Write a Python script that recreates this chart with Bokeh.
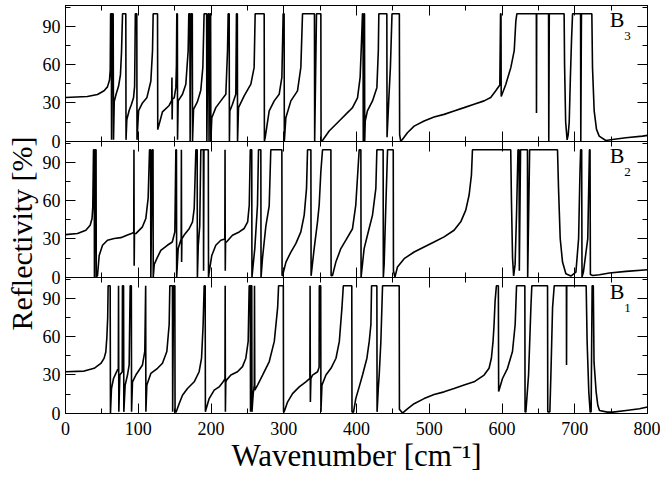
from bokeh.plotting import figure
from bokeh.models import Range1d, LinearAxis, SingleIntervalTicker, Label, Title
from bokeh.layouts import column
from bokeh.embed import file_html
from bokeh.resources import INLINE

# Reflectivity spectra (wavenumber cm^-1, reflectivity %)
B3 = [(0,34.2),(30,35),(44,36.6),(53,39.5),(57.7,42.6),(60.5,48),(61.5,56),
(62,100),(63,100),(63.3,1),(64,100),(65.5,100),(66,1),
(67,31),(69.6,37),(72.9,43),(75.5,52),(77,70),(78.4,100),(82.9,100),(83.2,1),
(84.3,17),(87.5,24),(90.7,29),(93.5,34),(95,43),(95.5,70),(96,100),(98,100),(98.3,1),
(100.5,24),(105.8,30),(111.8,34),(117.3,47),(119.6,71),(120.5,100),(126.5,100),(126.8,9),
(133.3,23),(142.5,28),(146,32),(146.3,50),(146.6,17),(147,33),(149.4,34),(151.7,42),(152.5,60),(153,100),(153.8,100),(154,1),
(154.9,31.6),(160.8,36.8),(165.4,44.7),(168.6,71),(169.5,100),(171,100),(171.3,0),(172.5,100),(174.3,100),(174.6,0),
(176,25),(181.4,31),(186,40),(188.8,58),(190.5,100),(194,100),(194.3,0),(196,100),(197,100),(197.3,0),(198.5,100),(199.5,100),(199.8,0),
(201.1,18.4),(206.6,26.3),(213.5,31.6),(220.4,36.8),(222.7,71),(223.6,100),(225,100),(225.3,0),
(225.9,23.7),(229.5,29),(234.1,36.8),(235,100),(236.2,100),(236.5,0),
(237.8,26.3),(245.6,35.5),(254.8,44.7),(259.3,57.9),(260.7,100),(273.1,100),(273.4,0),
(274.4,2.6),(280,23.7),(286.9,31.6),(293.7,36.8),(297.4,50),(299.2,100),(300.5,100),(300.8,0),
(302.9,18.4),(309.8,31.6),(318.9,39.5),(323.5,57.9),(325.8,100),(342.2,100),(342.5,0),(345,100),(351,100),(351.3,0),
(353.3,0.5),(362.4,7.9),(376.2,15.8),(390,23.7),(394.5,26.3),(401.4,34),(405,50),(407,80),(408.2,100),(409,100),(409.3,0),(410.5,100),(411,100),(411.3,0),
(412,15.8),(415,23.7),(422,31.6),(428,42),(430,71),(430.7,100),(441.7,100),(442,3),
(444.3,31.6),(446.6,57.9),(448.8,100),(458.9,100),(459.3,5),(460.8,0),
(463.1,1.3),(470,6.6),(479.2,11.8),(492.9,15.8),(506.6,19),(520.4,21),(534.1,23.7),(547.9,26.3),(561.6,29),(575.4,31.6),(584.5,34.2),(591.4,39.5),(597,44),
(598,100),(598.6,100),(598.9,35),(605.3,44.7),(612.2,57.9),(616.8,71),(619,94),(620.4,100),
(647.2,100),(647.4,22),(647.7,100),(664,100),(664.3,0),(665,100),(685.4,100),
(686,60),(687.5,15),(689.5,1),(691,5),(692.4,15),(694,50),(695.6,80),(697,100),
(708,100),(708.3,0),(709.2,100),(723.5,100),(724.4,57.9),(726.7,23.7),(729.9,9.2),(733.6,3.9),(742.7,0.5),(751.9,1.3),(770.2,2.6),(793.1,3.9),(800,4.5)]

B2 = [(0,33.4),(16.5,34.2),(28,36.8),(33.9,40.8),(36.5,46),(37.5,55),(38.5,100),(39.5,100),(39.8,0),(40.8,100),(42,100),(42.3,0),
(44,1.3),(46.3,17),(50.9,25),(57.7,29),(66.9,30.3),(76,31),(85.2,33),(90.7,34.2),(93.8,35),(94.1,100),(94.4,9),(94.8,34),
(96.7,34.2),(105.8,39.5),(110.4,46),(113.6,62),(115.5,100),(117,100),(117.3,0),(119.2,100),(120.3,100),(120.6,0),
(122,10),(125.5,14.5),(131,21),(140,25),(146.8,27.6),(150.3,35.5),(151.7,100),(152.5,100),(152.8,0),
(154.9,22.4),(159,30),(159.3,100),(159.6,11.8),(160,30),(163.1,33),(170,38),(174.6,43.4),(176.9,54),(179.2,100),(181,100),(181.3,0),
(182.5,25),(184.5,40),(186,100),(189.5,100),(189.8,5),(190.3,100),(196.3,100),(196.6,0),
(197.5,4),(201.1,17),(206.6,25),(213.5,29),(219,30),(219.3,100),(219.6,5),(220,27),
(221.3,27.6),(229.5,32.9),(238.8,35.5),(245.6,38.2),(250.4,43.4),(252.6,56.6),(254,100),(256,100),(256.3,0),
(258,10),(260.2,22.4),(263.9,56.6),(265.3,100),(268.5,100),(268.8,0),
(270.8,15),(275.4,40),(280,56),(282.2,100),(297.4,100),(297.7,1),
(298.4,1.3),(303,11.8),(309.8,19.7),(316.6,26.3),(323.5,35.5),(328.1,48.7),(331.3,69.7),(332.7,100),(337.3,100),(337.6,1),
(338.7,6.6),(341.8,22.4),(346.4,43.4),(348.7,56.6),(351,82.9),(353.3,100),(364.8,100),(365.1,1),
(367,1.3),(371.6,11.8),(378.5,22.4),(385.4,29),(394.5,38),(399,56.6),(403.7,100),(406,100),(406.3,0),
(407,3.9),(410.5,22.4),(415,32.9),(422,48.7),(426.6,69.7),(428,100),(436.6,100),(436.9,0),
(438,10),(440,50),(442.7,100),(450.5,100),(450.8,5),(452.8,0),
(456.3,7.9),(465.5,14.5),(479.2,19.7),(492.9,23.7),(506.6,27.6),(520.4,31.6),(534.1,36.8),(543.3,43.4),(550.2,52.6),(554.8,64.5),(558,80.3),(559.4,100),
(612,100),(613,60),(614.5,15),(616,1),(618,10),(620,50),(622,100),(623.5,100),(623.8,5),(625.5,100),(635,100),(635.3,0),(638,100),
(676.3,100),(677.7,69.7),(680,30.3),(683.2,11.8),(687.8,2.6),(694.7,0.8),(701.6,3.9),(705.3,30.3),(707.2,82.9),(708.1,100),(709.5,100),(710,0),
(711.9,3.9),(717.9,30.3),(720.2,100),(721,100),(721.5,2),(724.8,1.3),(733.9,1.8),(747.7,3.2),(770.6,4.5),(800,5.8)]

B1 = [(0,32.5),(25.7,33),(39.4,35.2),(48.6,39),(53,43),(55.4,48),(56.8,59),(58,75),(58.6,100),(61.4,100),(61.8,0),
(63.2,19.3),(66,27.2),(69.2,31.2),(71.5,33.9),(72.6,34.5),(72.9,100),(73.3,1),
(74.7,29.9),(76,31),(78,32.5),(78.3,100),(79.8,100),(80.2,1),
(82,22),(85.2,29.9),(87.5,37.8),(88.9,100),(90.5,100),(90.8,1),
(92.1,24.6),(96.7,29.9),(105.8,37.8),(109,48.4),(110.2,100),(110.5,1),
(111.8,22),(117.3,31.2),(126.5,35.2),(133.3,39.2),(139.3,48.4),(142.5,69.6),(143.4,100),(147,100),(147.3,1),(148.5,100),(150.3,100),(150.6,1),
(152.1,0.8),(156.2,7.4),(160.8,14),(167.7,19.3),(176.9,24.6),(183.7,32.5),(187,43.1),(189.2,69.6),(190.6,100),(192,100),(192.3,1),
(192.7,2.1),(197.5,11.4),(204.4,18),(211.2,20.6),(216.7,24.6),(219.2,27),(219.5,100),(219.8,1),(220.3,24),
(221.3,25.9),(227.3,29.9),(236.4,32.5),(243.3,36.5),(247.9,43.1),(251.1,56.3),(252.5,100),(254,100),(254.3,1),(255.2,100),(256,100),(256.3,1),
(258,15),(259.5,22),(259.8,100),(260.2,18),(264,22),(270.9,29.9),(280.1,40.5),(287,56.3),(291.6,82.8),(292.9,100),(299.4,100),(299.7,1),
(300.6,1),(305.2,8.7),(312.1,15.3),(321.3,20.6),(330.4,24.6),(335.9,27.2),(336.2,100),(336.6,8.7),(337.3,27),(339.6,29.9),(346.5,32.5),(348.6,36),(348.9,100),(350.8,100),(351.1,1),
(352.5,22),(358,29.9),(364.9,35.2),(371.8,43.1),(376.4,56.3),(380,82.8),(381.9,100),(393.5,100),(393.8,1),
(395.9,0.8),(399,11.4),(403.7,20.6),(408.3,29.9),(414.3,43.1),(417.5,56.3),(419.8,69.6),(420.7,100),(428,100),(428.3,1),
(430,20),(431.2,29.9),(433.5,56.3),(435.8,100),(458.7,100),(459,3),(463.2,0),
(470,3.4),(479.2,7.4),(492.9,11.4),(506.6,14.6),(520.4,16.7),(534.1,19.3),(547.9,22),(561.6,24.6),(575.4,29.9),(582.2,35.2),(585.4,43.1),(587.7,56.3),(589.1,69.6),(590.5,88),(592.3,100),(595,100),(595.4,17),
(600.7,27.2),(607.6,35.2),(614.4,48.4),(618.1,69.6),(620,100),(631.4,100),(631.7,1),
(632.8,0.8),(636.5,29.9),(639.7,82.8),(641,100),(662.6,100),(662.9,1),(665.8,1),(667.2,29.9),(669.5,82.8),(671.8,100),
(688.5,100),(688.7,37.8),(689,100),(715.7,100),(717,56.3),(719.3,16.7),(721.2,0.8),(722.5,1),(723.9,100),(725.5,100),(726.5,40),
(729.4,16.7),(731.7,6.1),(734,2.1),(745,0.8),(752.3,0.8),(770.6,2.1),(789,3.4),(800,4.8)]

panel_names = ["3", "2", "1"]
x_label = "Wavenumber [cm\u207b\u00b9]"
y_label = "Reflectivity [%]"

FONT = "Liberation Serif"
FRAME_W = 582
FRAME_H = 136


def style_axis(ax, show_labels):
    ax.major_tick_in = 10
    ax.major_tick_out = 0
    ax.minor_tick_in = 5
    ax.minor_tick_out = 0
    ax.axis_line_color = "black"
    ax.major_tick_line_color = "black"
    ax.minor_tick_line_color = "black"
    ax.axis_label_text_font = FONT
    ax.axis_label_text_font_style = "normal"
    ax.axis_label_text_color = "black"
    ax.axis_label_text_font_size = "31px"
    ax.major_label_text_font = FONT
    ax.major_label_text_color = "black"
    if show_labels:
        ax.major_label_text_font_size = "18px"
    else:
        # tick marks only on these edges (as in the reference)
        ax.major_label_text_font_size = "0px"
        ax.major_label_standoff = 0


def make_panel(points, sub, top_b, bottom_b, x_labels, y_title):
    p = figure(frame_width=FRAME_W, frame_height=FRAME_H,
               x_range=Range1d(0, 800), y_range=Range1d(-0.3, 106.5),
               output_backend="svg", toolbar_location=None,
               x_axis_location=None, y_axis_location=None,
               min_border_left=63, min_border_right=15,
               min_border_top=top_b, min_border_bottom=bottom_b)
    p.xgrid.visible = False
    p.ygrid.visible = False
    p.outline_line_color = "black"
    p.outline_line_width = 1
    p.background_fill_color = "white"
    p.border_fill_color = None

    xb = LinearAxis(ticker=SingleIntervalTicker(interval=100, num_minor_ticks=2))
    style_axis(xb, x_labels)
    if x_labels:
        xb.axis_label = x_label
        xb.major_label_standoff = 8
        xb.axis_label_standoff = 0
    p.add_layout(xb, "below")

    xt = LinearAxis(ticker=SingleIntervalTicker(interval=100, num_minor_ticks=2))
    style_axis(xt, False)
    p.add_layout(xt, "above")

    yl = LinearAxis(ticker=SingleIntervalTicker(interval=30, num_minor_ticks=2))
    style_axis(yl, True)
    yl.major_label_standoff = 5
    p.add_layout(yl, "left")

    if y_title:
        # y-axis title: starts a little below the middle panel, as in the reference
        p.add_layout(Title(text=y_label, align="left", offset=-53, standoff=4,
                           text_font=FONT, text_font_size="30px",
                           text_font_style="normal", text_color="black"), "left")

    yr = LinearAxis(ticker=SingleIntervalTicker(interval=30, num_minor_ticks=2))
    style_axis(yr, False)
    p.add_layout(yr, "right")

    xs = [pt[0] for pt in points]
    ys = [pt[1] for pt in points]
    p.line(xs, ys, line_color="black", line_width=1.6)

    p.add_layout(Label(x=748, y=85.5, text="B", text_font=FONT,
                       text_font_size="22px", text_color="black"))
    p.add_layout(Label(x=768, y=79.8, text=sub, text_font=FONT,
                       text_font_size="13px", text_color="black"))
    return p


p3 = make_panel(B3, panel_names[0], 5, 10, False, False)
p2 = make_panel(B2, panel_names[1], 40, 65, False, True)
p1 = make_panel(B1, panel_names[2], 0, 61, True, False)
p2.margin = (-50, 0, 0, 0)
p1.margin = (-65, 0, 0, 0)

layout = column(p3, p2, p1, spacing=0)
layout.styles = {"background-color": "white"}
open("out.html", "w").write(file_html(layout, INLINE))
